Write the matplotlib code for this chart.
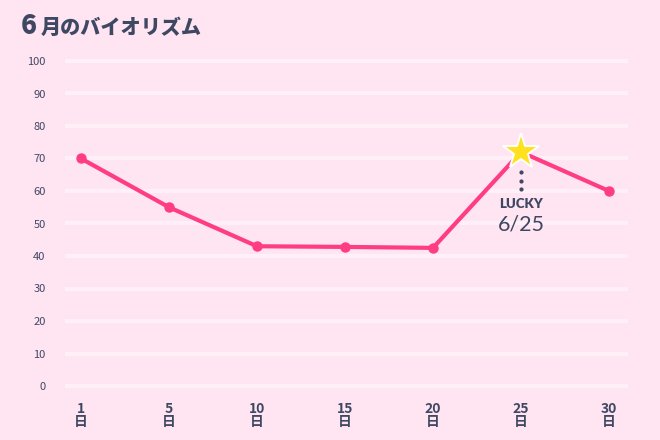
import matplotlib
matplotlib.use("Agg")
import matplotlib.pyplot as plt

plt.rcParams['font.family'] = ['Noto Sans CJK JP', 'DejaVu Sans']

days = ["1", "5", "10", "15", "20", "25", "30"]
values = [70, 55, 43, 42.8, 42.5, 72, 60]
yticks = [0, 10, 20, 30, 40, 50, 60, 70, 80, 90, 100]
lucky_index = 5
title_num = "6"
title_rest = "月のバイオリズム"
lucky_label = "LUCKY"
lucky_date = "6/25"

BG = "#ffe4f1"
GRID = "#fff0f7"
LINE = "#ff3d82"
TEXT = "#3e4863"
STAR = "#ffe11f"

W, H = 660, 440
fig = plt.figure(figsize=(W / 100, H / 100), dpi=100)
fig.patch.set_facecolor(BG)

left_px, right_px = 65, 628
y0_px, y100_px = 386, 61
ppu = (y0_px - y100_px) / 100.0
ylo, yhi = -1.5, 101.5
bottom_px = y0_px + (0 - ylo) * ppu
top_px = y100_px - (yhi - 100) * ppu
ax = fig.add_axes([left_px / W, (H - bottom_px) / H,
                   (right_px - left_px) / W, (bottom_px - top_px) / H])
ax.set_facecolor(BG)

x = list(range(len(days)))
xppu = 88.0
first_px = 81
ax.set_xlim((left_px - first_px) / xppu, (right_px - first_px) / xppu)
ax.set_ylim(ylo, yhi)

for yv in yticks:
    ax.axhline(yv, color=GRID, lw=3.0, solid_capstyle='round', zorder=1)

ax.plot(x, values, color=LINE, lw=3, zorder=3, solid_joinstyle='round')
others = [i for i in x if i != lucky_index]
ax.plot(others, [values[i] for i in others], 'o', color=LINE, ms=6.5, zorder=4)
ax.plot([lucky_index], [values[lucky_index]], marker='*', color=STAR, ms=27,
        mec='white', mew=1.4, zorder=5)

ax.plot([lucky_index] * 3, [values[lucky_index] - d for d in (6.2, 8.9, 11.5)],
        'o', color=TEXT, ms=2.0, zorder=4)
ax.annotate(lucky_label, xy=(lucky_index, values[lucky_index]), xytext=(0, -37.5),
            textcoords='offset points', ha='center', va='center',
            fontsize=9.5, fontweight='heavy', color=TEXT, family=['Lato', 'DejaVu Sans'])
ax.annotate(lucky_date, xy=(lucky_index, values[lucky_index]), xytext=(0, -52.5),
            textcoords='offset points', ha='center', va='center',
            fontsize=15.5, color=TEXT, family=['Lato', 'DejaVu Sans'])

ax.set_yticks(yticks)
ax.set_yticklabels([str(v) for v in yticks], fontsize=8, color=TEXT)
ax.set_xticks(x)
ax.set_xticklabels([d + "\n日" for d in days], fontsize=10, color=TEXT,
                   fontweight='bold', linespacing=0.95)
ax.tick_params(axis='y', length=0, pad=14)
ax.tick_params(axis='x', length=0, pad=8)
for s in ax.spines.values():
    s.set_visible(False)

fig.text(21 / W, 1 - 34 / H, title_num, fontsize=19, fontweight='heavy',
         color=TEXT, ha='left', va='baseline')
fig.text(41 / W, 1 - 34 / H, title_rest, fontsize=14.5, fontweight='heavy',
         color=TEXT, ha='left', va='baseline')

fig.savefig("out.png", dpi=100, facecolor=BG)
